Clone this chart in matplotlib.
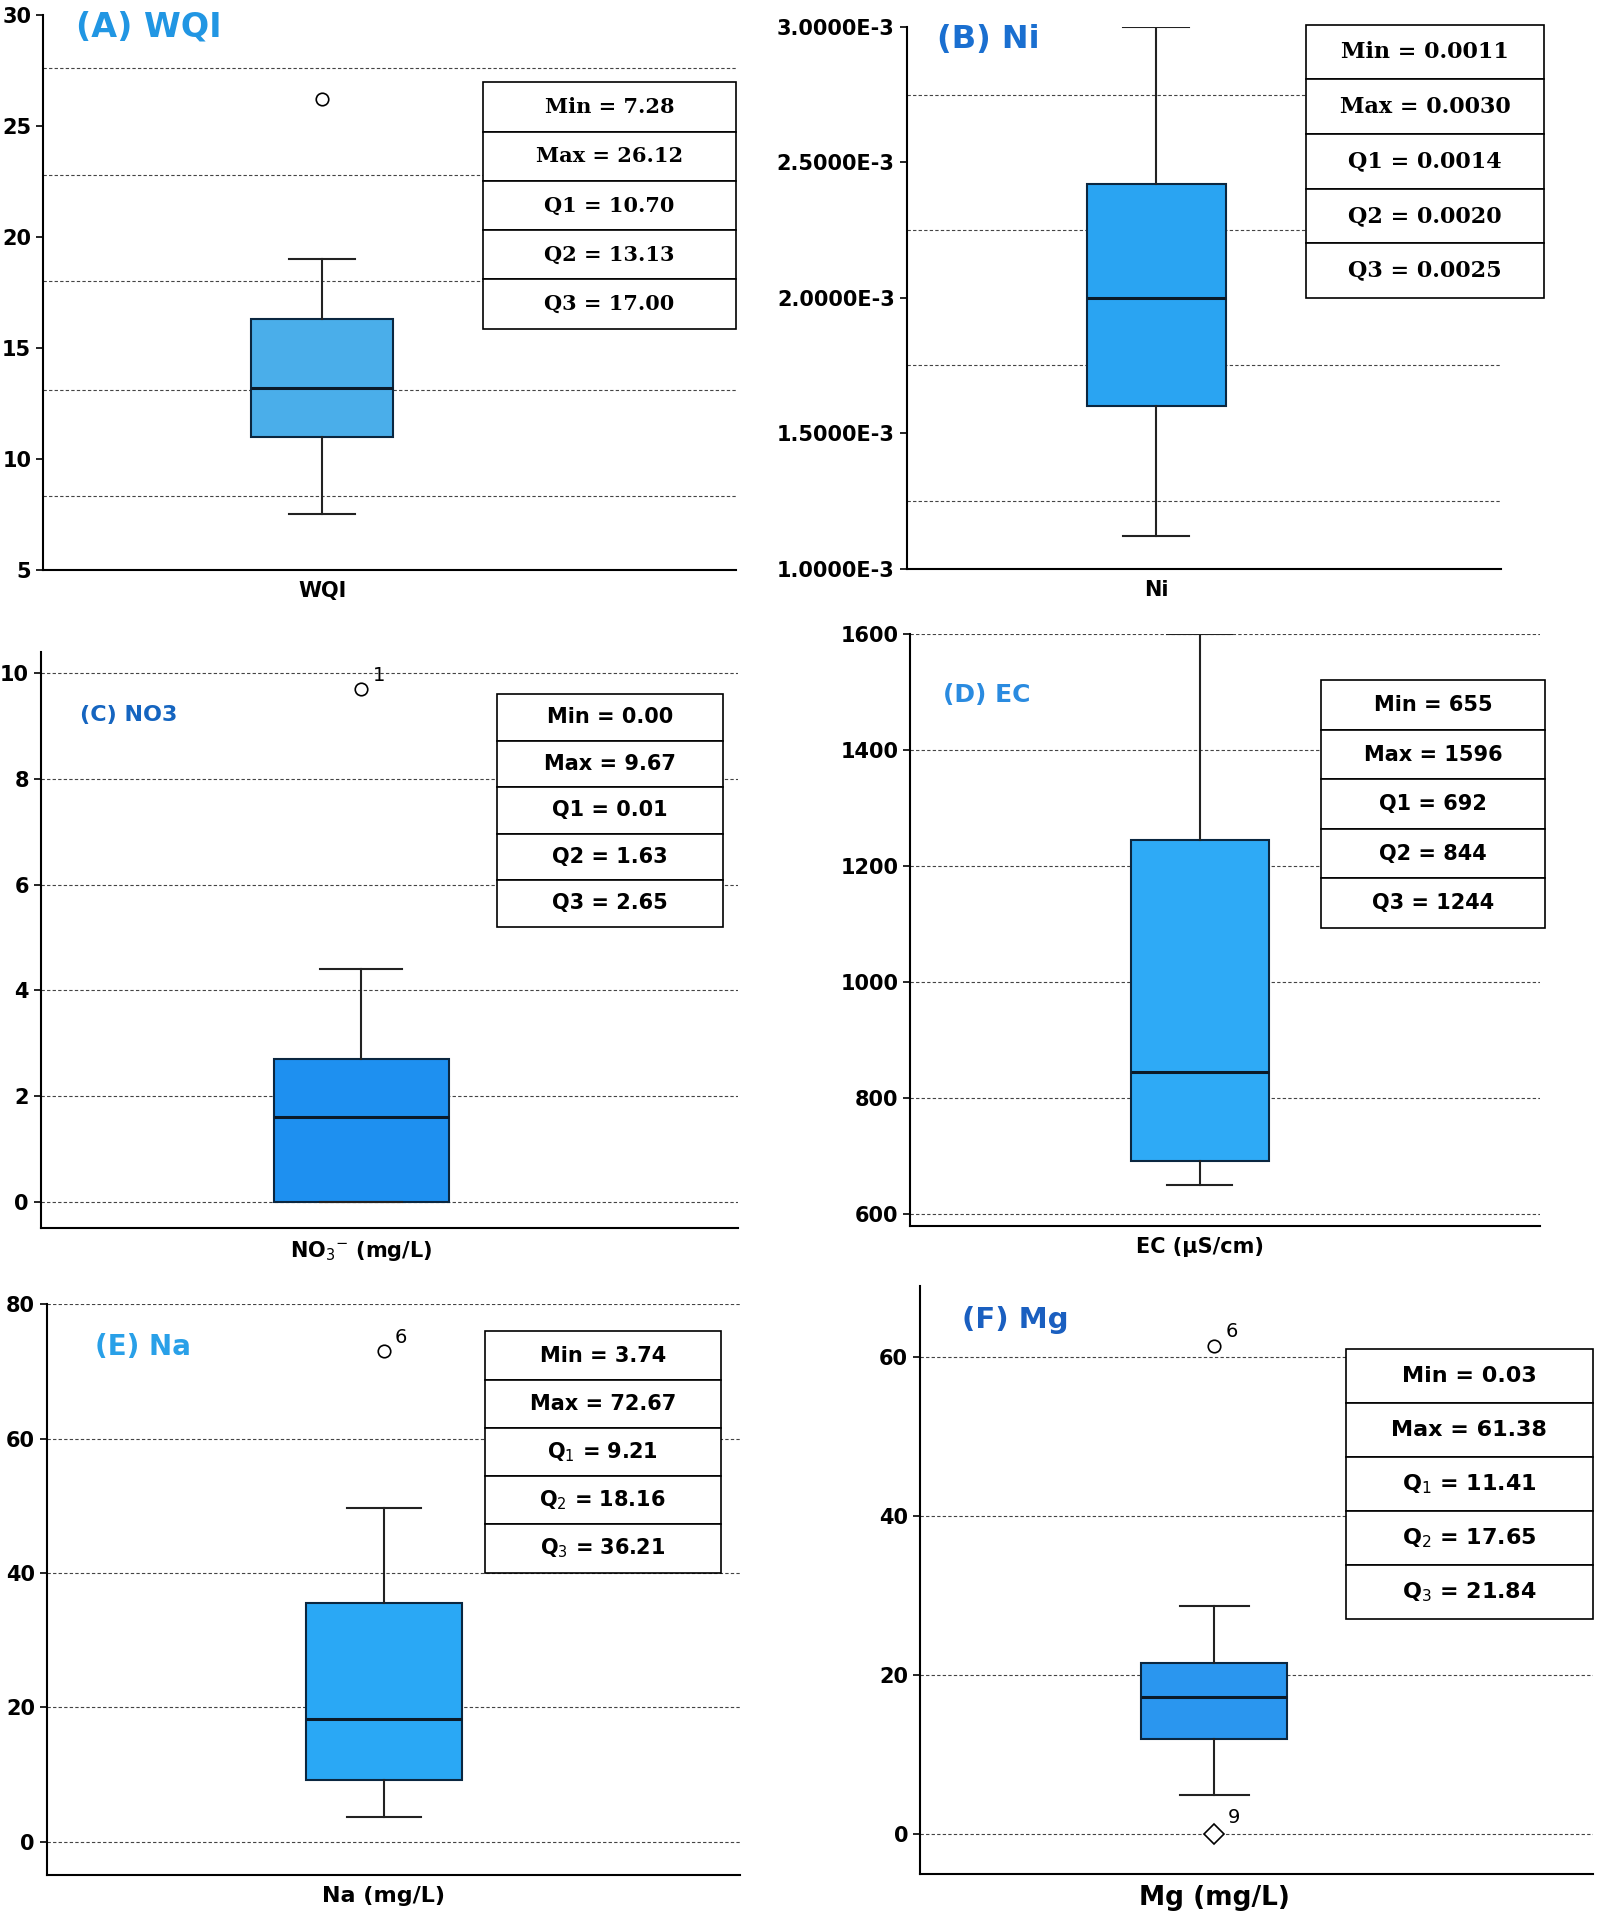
import matplotlib
matplotlib.use("Agg")
import matplotlib.pyplot as plt
from matplotlib.ticker import FormatStrFormatter, FuncFormatter

# display image was 1300 x 1566 px; positions below are in those px
W, H = 1300.0, 1566.0

# ---- data ----
names = ["A", "B", "C", "D", "E", "F"]
titles = ["(A) WQI", "(B) Ni", "(C) NO3", "(D) EC", "(E) Na", "(F) Mg"]
xlabels = ["WQI", "Ni", "NO$_3$$^{-}$ (mg/L)", "EC (µS/cm)", "Na (mg/L)", "Mg (mg/L)"]
whislo = [7.5, 1.12e-3, 0.0, 650, 3.7, 5.0]
q1 = [11.0, 1.6e-3, 0.0, 692, 9.2, 12.0]
med = [13.2, 2.0e-3, 1.6, 844, 18.2, 17.3]
q3 = [16.3, 2.42e-3, 2.7, 1244, 35.5, 21.5]
whishi = [19.0, 3.0e-3, 4.4, 1600, 49.7, 28.7]
outliers = [[26.2], [], [9.7], [], [73.0], [61.5]]
outlier_labels = [[""], [], ["1"], [], ["6"], ["6"]]
extreme = [None, None, None, None, None, 0.0]
extreme_label = [None, None, None, None, None, "9"]
ylims = [(5, 30), (1e-3, 3e-3), (-0.5, 10.4), (580, 1600), (-5, 80), (-5, 69)]
yticks = [[5, 10, 15, 20, 25, 30],
          [1e-3, 1.5e-3, 2e-3, 2.5e-3, 3e-3],
          [0, 2, 4, 6, 8, 10],
          [600, 800, 1000, 1200, 1400, 1600],
          [0, 20, 40, 60, 80],
          [0, 20, 40, 60]]
gridlines = [[8.3, 13.1, 18.0, 22.8, 27.6],
             [1.25e-3, 1.75e-3, 2.25e-3, 2.75e-3],
             [0, 2, 4, 6, 8, 10],
             [600, 800, 1000, 1200, 1400, 1600],
             [0, 20, 40, 60, 80],
             [0, 20, 40, 60]]
tables = [
    ["Min = 7.28", "Max = 26.12", "Q1 = 10.70", "Q2 = 13.13", "Q3 = 17.00"],
    ["Min = 0.0011", "Max = 0.0030", "Q1 = 0.0014", "Q2 = 0.0020", "Q3 = 0.0025"],
    ["Min = 0.00", "Max = 9.67", "Q1 = 0.01", "Q2 = 1.63", "Q3 = 2.65"],
    ["Min = 655", "Max = 1596", "Q1 = 692", "Q2 = 844", "Q3 = 1244"],
    ["Min = 3.74", "Max = 72.67", "Q$_1$ = 9.21", "Q$_2$ = 18.16", "Q$_3$ = 36.21"],
    ["Min = 0.03", "Max = 61.38", "Q$_1$ = 11.41", "Q$_2$ = 17.65", "Q$_3$ = 21.84"],
]

# ---- layout / style ----
axes_px = [(35, 12, 598, 463), (737, 22, 1220, 462), (33, 530, 600, 998),
           (740, 515, 1252, 996), (38, 1060, 602, 1524), (748, 1045, 1295, 1523)]
table_px = [(393, 67, 598, 267), (1062, 20, 1255, 242), (404, 564, 588, 753),
            (1074, 553, 1256, 754), (394, 1082, 586, 1278), (1094, 1096, 1295, 1316)]
table_font = ["serif", "serif", "sans-serif", "sans-serif", "sans-serif", "sans-serif"]
table_size = [15, 16, 15, 15, 15, 16]
title_xy = [(62, 22), (762, 32), (65, 581), (767, 565), (77, 1095), (782, 1073)]
title_size = [24, 23, 16, 18, 20, 21]
title_color = ["#2196e3", "#1a6fd0", "#1565c0", "#2a8be0", "#29a0e8", "#1a5fc0"]
box_color = ["#4aaeea", "#2aa4f2", "#1e90f0", "#2eaaf6", "#2aa8f5", "#2a96ef"]
box_pos = [0.403, 0.42, 0.46, 0.46, 0.486, 0.437]
box_w = [0.204, 0.234, 0.25, 0.219, 0.225, 0.218]
xlabel_size = [15, 15, 15, 15, 16, 19]


def fig_rect(px):
    x0, y0, x1, y1 = px
    return [x0 / W, 1 - y1 / H, (x1 - x0) / W, (y1 - y0) / H]


fig = plt.figure(figsize=(15.99, 19.27), dpi=100)
plt.rcParams['font.family'] = ['DejaVu Sans']

for i in range(6):
    ax = fig.add_axes(fig_rect(axes_px[i]))
    for g in gridlines[i]:
        ax.axhline(g, color="#444444", ls=(0, (3, 2)), lw=0.8, zorder=0)
    stats = [dict(whislo=whislo[i], q1=q1[i], med=med[i], q3=q3[i],
                  whishi=whishi[i], fliers=outliers[i])]
    ax.bxp(stats, positions=[box_pos[i]], widths=box_w[i], patch_artist=True,
           boxprops=dict(facecolor=box_color[i], edgecolor="#0b2740", lw=1.5),
           medianprops=dict(color="#0b1a28", lw=2.2),
           whiskerprops=dict(color="#222222", lw=1.5),
           capprops=dict(color="#222222", lw=1.5),
           flierprops=dict(marker="o", markerfacecolor="white", markeredgecolor="black",
                           markersize=9, markeredgewidth=1.2),
           capwidths=box_w[i] * 0.47)
    for v, lab in zip(outliers[i], outlier_labels[i]):
        ax.annotate(lab, (box_pos[i], v), xytext=(8, 6), textcoords="offset points", fontsize=14)
    if extreme[i] is not None:
        ax.plot([box_pos[i]], [extreme[i]], marker="D", mfc="white", mec="black",
                ms=10, mew=1.2, ls="none")
        ax.annotate(extreme_label[i], (box_pos[i], extreme[i]), xytext=(10, 8),
                    textcoords="offset points", fontsize=14)
    ax.set_xlim(0, 1)
    ax.set_ylim(*ylims[i])
    ax.set_yticks(yticks[i])
    if i == 1:
        ax.yaxis.set_major_formatter(FuncFormatter(lambda v, p: ("%.4fE-3" % (v * 1e3))))
    ax.set_xticks([box_pos[i]])
    ax.set_xticklabels([xlabels[i]], fontsize=xlabel_size[i], fontweight="bold")
    ax.tick_params(axis="x", length=0, pad=8)
    ax.tick_params(axis="y", labelsize=15, width=1.2, length=5)
    for t in ax.get_yticklabels():
        t.set_fontweight("bold")
    for s in ["top", "right"]:
        ax.spines[s].set_visible(False)
    ax.spines["left"].set_linewidth(1.5)
    ax.spines["bottom"].set_linewidth(1.5)

    fig.text(title_xy[i][0] / W, 1 - title_xy[i][1] / H, titles[i], fontsize=title_size[i],
             fontweight="bold", color=title_color[i], va="center", ha="left")

    tax = fig.add_axes(fig_rect(table_px[i]))
    tax.axis("off")
    tb = tax.table(cellText=[[t] for t in tables[i]], cellLoc="center", bbox=[0, 0, 1, 1])
    for (r, c), cell in tb.get_celld().items():
        cell.set_linewidth(1.2)
        cell.set_facecolor("white")
        cell.get_text().set_fontfamily(table_font[i])
        cell.get_text().set_fontweight("bold")
        cell.get_text().set_fontsize(table_size[i])
    tb.auto_set_font_size(False)

fig.savefig("out.png", dpi=100)
